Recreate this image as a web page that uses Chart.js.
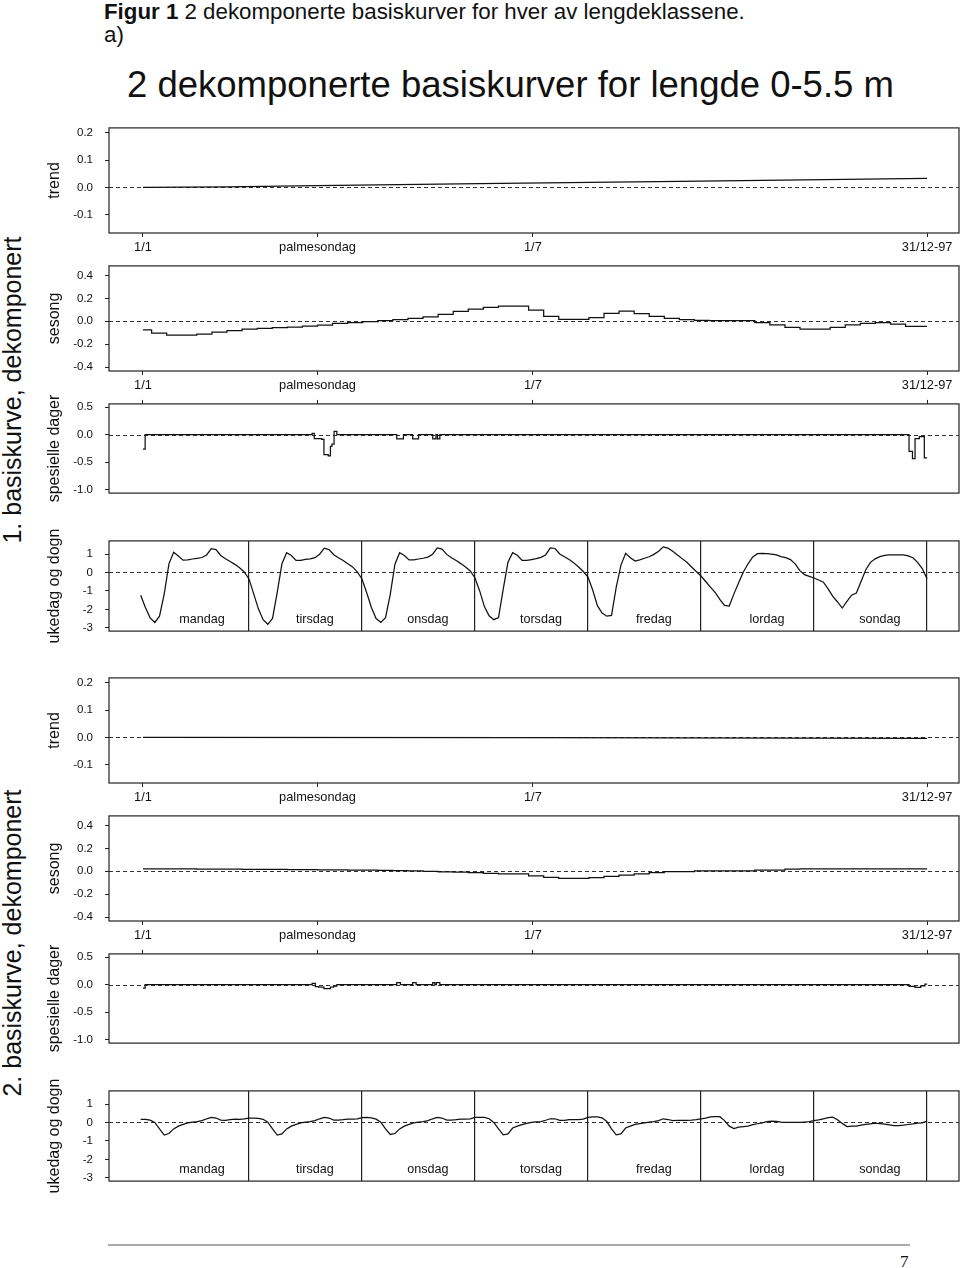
<!DOCTYPE html>
<html>
<head>
<meta charset="utf-8">
<script src="https://cdn.jsdelivr.net/npm/chart.js@4.4.1/dist/chart.umd.min.js"></script>
<style>
  body { margin: 0; background: #fff; width: 960px; height: 1268px; position: relative; overflow: hidden;
         font-family: "Liberation Sans", Arial, Helvetica, sans-serif; color: #111; }
  canvas { position: absolute; left: 0; }
  .hdr { position: absolute; left: 104px; top: 0px; font-size: 22.3px; line-height: 23px; white-space: nowrap; }
  .title { position: absolute; left: 127px; top: 67px; font-size: 36.5px; line-height: 36px; white-space: nowrap; }
  .comp { position: absolute; width: 400px; height: 26px; line-height: 26px; font-size: 25px; text-align: center;
          transform: rotate(-90deg); white-space: nowrap; }
  .rule { position: absolute; left: 108px; top: 1244px; width: 802px; border-top: 2px solid #aaa; }
  .page { position: absolute; left: 900px; top: 1252px; font-family: "Liberation Serif", "DejaVu Serif", serif; font-size: 17px; }
</style>
</head>
<body>
<div class="hdr"><b>Figur 1</b> 2 dekomponerte basiskurver for hver av lengdeklassene.<br>a)</div>
<div class="title">2 dekomponerte basiskurver for lengde 0-5.5 m</div>
<div class="comp" style="left:-188px; top:377px;">1. basiskurve, dekomponert</div>
<div class="comp" style="left:-188px; top:930px;">2. basiskurve, dekomponert</div>
<div class="rule"></div>
<div class="page">7</div>

<script>
// x axis ticks for the year panels (day of year 1997)
const yearTicks = [1, 82, 182, 365];
const yearTickLabels = ["1/1", "palmesondag", "1/7", "31/12-97"];

// y ticks per panel type
const trendTicks = [-0.1, 0, 0.1, 0.2];
const seasonTicks = [-0.4, -0.2, 0, 0.2, 0.4];
const specialTicks = [-1, -0.5, 0, 0.5];
const weekTicks = [-3, -2, -1, 0, 1];

const dayNames = ["mandag", "tirsdag", "onsdag", "torsdag", "fredag", "lordag", "sondag"];
const dayBoundaries = [24, 48, 72, 96, 120, 144, 168];

// trend
const trendDays1 = [1, 40, 82, 157, 250, 365];
const trendValues1 = [0.0, 0.002, 0.007, 0.014, 0.022, 0.033];
const trendDays2 = [1, 182, 365];
const trendValues2 = [0.0, -0.001, -0.003];

// sesong (weekly steps)
const seasonDays = [1, 5, 12, 19, 26, 33, 40, 47, 54, 61, 68, 75, 82, 89, 96, 103, 110, 117, 124, 131,
  138, 145, 152, 159, 166, 173, 180, 187, 194, 201, 208, 215, 222, 229, 236, 243, 250, 257, 264, 271,
  278, 285, 292, 299, 306, 313, 320, 327, 334, 341, 348, 355, 362, 365];
const season1 = [-0.075, -0.103, -0.12, -0.12, -0.111, -0.094, -0.081, -0.067, -0.061, -0.056, -0.05,
  -0.042, -0.033, -0.019, -0.011, -0.003, 0.006, 0.014, 0.025, 0.039, 0.061, 0.086, 0.106, 0.122, 0.133,
  0.133, 0.097, 0.044, 0.017, 0.017, 0.033, 0.069, 0.089, 0.067, 0.044, 0.025, 0.014, 0.008, 0.007, 0.006,
  0.005, -0.011, -0.031, -0.053, -0.067, -0.067, -0.053, -0.031, -0.017, -0.011, -0.025, -0.044, -0.044, -0.044];
const season2 = [0.022, 0.022, 0.021, 0.021, 0.02, 0.02, 0.019, 0.018, 0.017, 0.016, 0.015, 0.014, 0.013,
  0.012, 0.011, 0.01, 0.009, 0.007, 0.004, 0.0, -0.004, -0.008, -0.012, -0.017, -0.022, -0.022, -0.039,
  -0.053, -0.061, -0.061, -0.056, -0.044, -0.033, -0.022, -0.011, -0.003, -0.003, 0.003, 0.003, 0.003,
  0.003, 0.011, 0.011, 0.019, 0.022, 0.022, 0.022, 0.022, 0.022, 0.022, 0.022, 0.022, 0.022, 0.022];

// spesielle dager (daily steps)
const specialDays1 = [1, 2, 79.5, 80.5, 84, 85, 87, 88, 88.7, 89.7, 91, 118.8, 121.9, 126.2, 128.9,
  135.5, 137, 137.7, 138.8, 356.6, 358.2, 359.4, 361.4, 363.7, 365];
const specialValues1 = [-0.26, 0, 0.025, -0.07, -0.085, -0.36, -0.385, -0.21, -0.17, 0.06, 0, -0.075, 0,
  -0.075, 0, -0.075, 0, -0.075, 0, -0.3, -0.435, -0.07, -0.035, -0.42, -0.42];
const specialDays2 = [1, 2, 79.5, 81, 82.5, 85, 88, 89.5, 91, 118.8, 120.5, 126.2, 127.8, 135.5, 136.5,
  137.2, 138.8, 356.6, 359.4, 362, 364, 365];
const specialValues2 = [-0.06, 0, 0.025, -0.035, -0.045, -0.07, -0.045, -0.025, 0, 0.04, 0, 0.04, 0, 0.04,
  0, 0.04, 0, -0.03, -0.05, -0.02, 0.01, 0.01];

// ukedag og dogn (hourly, monday 01 .. sunday 24)
const weekly1 = [
  -1.23, -1.9, -2.46, -2.71, -2.37, -1.16, 0.47, 1.1, 0.89, 0.67, 0.68, 0.73, 0.77, 0.81, 0.95, 1.29, 1.24, 0.92, 0.74, 0.59, 0.44, 0.25, 0.03, -0.35,
  -1.16, -1.97, -2.56, -2.81, -2.49, -1.08, 0.47, 1.07, 0.92, 0.65, 0.65, 0.71, 0.74, 0.8, 0.99, 1.32, 1.24, 0.96, 0.8, 0.65, 0.47, 0.3, 0.03, -0.35,
  -1.1, -1.9, -2.5, -2.71, -2.45, -1.2, 0.45, 1.07, 0.92, 0.68, 0.68, 0.73, 0.77, 0.83, 0.99, 1.33, 1.27, 0.98, 0.8, 0.65, 0.48, 0.3, 0.08, -0.3,
  -1.0, -1.85, -2.35, -2.56, -2.45, -0.9, 0.55, 1.07, 0.93, 0.65, 0.65, 0.7, 0.75, 0.82, 0.95, 1.33, 1.3, 1.0, 0.85, 0.7, 0.52, 0.3, 0.05, -0.25,
  -0.95, -1.8, -2.2, -2.37, -2.33, -0.8, 0.4, 1.04, 0.8, 0.62, 0.68, 0.77, 0.85, 0.98, 1.15, 1.39, 1.32, 1.15, 0.95, 0.75, 0.55, 0.3, 0.05, -0.19,
  -0.49, -0.79, -1.08, -1.46, -1.79, -1.82, -1.16, -0.56, 0.03, 0.47, 0.84, 1.02, 1.04, 1.02, 1.0, 0.95, 0.86, 0.8, 0.7, 0.47, 0.1, -0.12, -0.21, -0.3,
  -0.41, -0.53, -0.89, -1.3, -1.6, -1.93, -1.57, -1.23, -1.11, -0.49, 0.15, 0.55, 0.74, 0.86, 0.93, 0.96, 0.96, 0.96, 0.95, 0.9, 0.8, 0.55, 0.21, -0.34
];
const weekly2 = [
  0.17, 0.17, 0.13, 0.0, -0.35, -0.68, -0.6, -0.35, -0.2, -0.1, -0.02, 0.02, 0.04, 0.1, 0.2, 0.27, 0.24, 0.13, 0.12, 0.15, 0.18, 0.17, 0.2, 0.24,
  0.24, 0.22, 0.17, 0.02, -0.35, -0.68, -0.62, -0.35, -0.2, -0.1, -0.02, 0.02, 0.05, 0.1, 0.2, 0.27, 0.24, 0.13, 0.13, 0.15, 0.18, 0.18, 0.2, 0.26,
  0.27, 0.25, 0.18, 0.02, -0.35, -0.65, -0.6, -0.35, -0.2, -0.1, -0.02, 0.02, 0.05, 0.1, 0.2, 0.27, 0.24, 0.13, 0.13, 0.15, 0.18, 0.18, 0.2, 0.27,
  0.28, 0.28, 0.2, 0.0, -0.35, -0.67, -0.62, -0.3, -0.2, -0.12, -0.05, 0.0, 0.03, 0.05, 0.12, 0.2, 0.2, 0.12, 0.12, 0.15, 0.16, 0.16, 0.18, 0.27,
  0.3, 0.3, 0.25, 0.05, -0.35, -0.67, -0.62, -0.3, -0.2, -0.1, -0.06, -0.02, 0.02, 0.05, 0.1, 0.2, 0.16, 0.1, 0.12, 0.12, 0.12, 0.13, 0.15, 0.2,
  0.24, 0.3, 0.31, 0.31, 0.1, -0.2, -0.33, -0.25, -0.22, -0.2, -0.12, -0.07, -0.02, 0.04, 0.07, 0.06, 0.02, 0.0, 0.0, 0.0, 0.0, 0.02, 0.04, 0.1,
  0.14, 0.2, 0.26, 0.29, 0.15, -0.05, -0.22, -0.2, -0.2, -0.15, -0.1, -0.07, -0.04, -0.06, -0.09, -0.13, -0.17, -0.17, -0.15, -0.11, -0.08, -0.04, -0.02, 0.07
];
const weekHours = weekly1.map((v, i) => i + 1);

Chart.defaults.font.family = '"Liberation Sans", Arial, Helvetica, sans-serif';
Chart.defaults.color = "#111";

const INK = "#111";
const FRAME = "#222";

const framePlugin = {
  id: "frame",
  afterDraw(chart) {
    const { ctx, chartArea: a } = chart;
    ctx.save();
    ctx.strokeStyle = FRAME;
    ctx.lineWidth = 1.2;
    ctx.strokeRect(a.left, a.top, a.right - a.left, a.bottom - a.top);
    ctx.restore();
  }
};

const zeroPlugin = {
  id: "zero",
  beforeDatasetsDraw(chart) {
    const { ctx, chartArea: a } = chart;
    const y = Math.round(chart.scales.y.getPixelForValue(0)) + 0.5;
    ctx.save();
    ctx.strokeStyle = "#333";
    ctx.lineWidth = 1;
    ctx.setLineDash([4, 3]);
    ctx.beginPath();
    ctx.moveTo(a.left, y);
    ctx.lineTo(a.right, y);
    ctx.stroke();
    ctx.restore();
  }
};

const dayLabelPlugin = {
  id: "daylabels",
  afterDatasetsDraw(chart) {
    const { ctx, chartArea: a } = chart;
    const x = chart.scales.x;
    ctx.save();
    ctx.fillStyle = INK;
    ctx.font = '12.6px "Liberation Sans", Arial, sans-serif';
    ctx.textAlign = "center";
    ctx.textBaseline = "middle";
    dayNames.forEach((name, i) => {
      ctx.fillText(name, x.getPixelForValue(i * 24 + 14), a.bottom - 12);
    });
    ctx.restore();
  }
};

// panel geometry (component 1), component 2 is shifted down
const panels = [
  { kind: "trend", title: "trend", top: 123, h: 110, min: -0.166, max: 0.217, ticks: trendTicks, dec: 1, labels: true },
  { kind: "season", title: "sesong", top: 261, h: 110, min: -0.433, max: 0.483, ticks: seasonTicks, dec: 1, labels: true },
  { kind: "special", title: "spesielle dager", top: 399, h: 109, min: -1.059, max: 0.559, ticks: specialTicks, dec: 1, labels: false },
  { kind: "week", title: "ukedag og dogn", top: 536, h: 110, min: -3.178, max: 1.711, ticks: weekTicks, dec: 0, labels: false }
];
const componentShift = [0, 550];

const seriesFor = [
  {
    trend: [trendDays1, trendValues1, false],
    season: [seasonDays, season1, true],
    special: [specialDays1, specialValues1, true],
    week: [weekHours, weekly1, false]
  },
  {
    trend: [trendDays2, trendValues2, false],
    season: [seasonDays, season2, true],
    special: [specialDays2, specialValues2, true],
    week: [weekHours, weekly2, false]
  }
];

function makePanel(p, comp) {
  const padTop = 14;
  const bottom = p.labels ? 30 : 4;
  const H = padTop + p.h + bottom;
  const cv = document.createElement("canvas");
  cv.width = 960;
  cv.height = H;
  cv.style.width = "960px";
  cv.style.height = H + "px";
  cv.style.top = (p.top + componentShift[comp] - padTop) + "px";
  document.body.appendChild(cv);

  const [xs, ys, stepped] = seriesFor[comp][p.kind];
  const isWeek = p.kind === "week";
  const hasTopTicks = p.kind === "special";

  const scales = {};
  scales.x = isWeek ? {
    type: "linear", min: -5.73, max: 174.8,
    afterBuildTicks: s => { s.ticks = dayBoundaries.map(v => ({ value: v })); },
    afterFit: s => { s.height = bottom; },
    ticks: { display: false },
    grid: { drawOnChartArea: true, drawTicks: false, color: FRAME, lineWidth: 1.2 },
    border: { display: false }
  } : {
    type: "linear", min: -14.78, max: 379.8,
    afterBuildTicks: s => { s.ticks = yearTicks.map(v => ({ value: v })); },
    afterFit: s => { s.height = bottom; },
    ticks: {
      display: p.labels, autoSkip: false, maxRotation: 0, padding: 3,
      font: { size: 12.8 }, color: INK,
      callback: (v, i) => yearTickLabels[i]
    },
    grid: { display: p.labels, drawOnChartArea: false, drawTicks: true, tickLength: 4, color: FRAME },
    border: { display: false }
  };
  if (hasTopTicks) {
    scales.xTop = {
      type: "linear", position: "top", min: -14.78, max: 379.8,
      afterBuildTicks: s => { s.ticks = yearTicks.map(v => ({ value: v })); },
      afterFit: s => { s.height = 4; },
      ticks: { display: false },
      grid: { drawOnChartArea: false, drawTicks: true, tickLength: 4, color: FRAME },
      border: { display: false }
    };
  }
  scales.y = {
    type: "linear", min: p.min, max: p.max,
    afterBuildTicks: s => { s.ticks = p.ticks.map(v => ({ value: v })); },
    afterFit: s => { s.width = 109; },
    ticks: { padding: 12, font: { size: 11.5 }, color: INK, callback: v => Number(v).toFixed(p.dec) },
    grid: { drawOnChartArea: false, drawTicks: true, tickLength: 4, color: FRAME },
    border: { display: false },
    title: { display: true, text: p.title, color: INK, font: { size: 16 }, padding: { top: 44.5 } }
  };

  new Chart(cv, {
    type: "line",
    data: {
      datasets: [{
        data: xs.map((x, i) => ({ x: x, y: ys[i] })),
        stepped: stepped ? "before" : false,
        borderColor: INK,
        borderWidth: 1.25,
        pointRadius: 0,
        tension: 0,
        fill: false
      }]
    },
    options: {
      responsive: false,
      animation: false,
      events: [],
      layout: { padding: { top: hasTopTicks ? padTop - 4 : padTop, right: 1, left: 0, bottom: 0 }, autoPadding: false },
      plugins: { legend: { display: false }, tooltip: { enabled: false } },
      scales: scales
    },
    plugins: isWeek ? [zeroPlugin, framePlugin, dayLabelPlugin] : [zeroPlugin, framePlugin]
  });
}

[0, 1].forEach(comp => panels.forEach(p => makePanel(p, comp)));
</script>
</body>
</html>
